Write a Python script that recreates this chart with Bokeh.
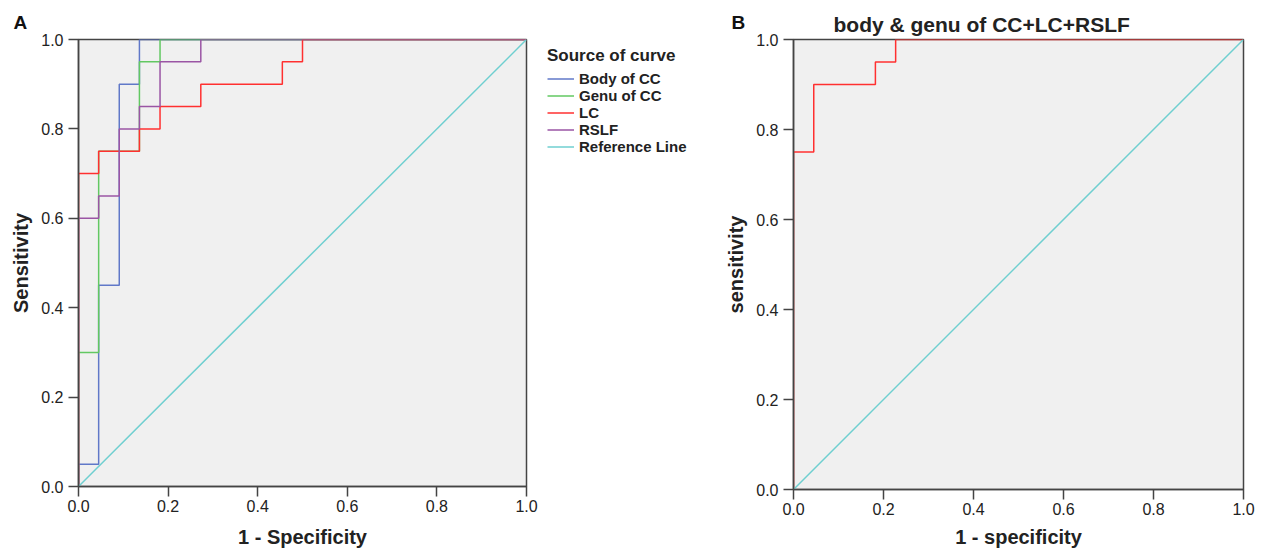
from bokeh.plotting import figure
from bokeh.models import (Range1d, FixedTicker, PrintfTickFormatter, Legend,
                          LegendItem, Label)
from bokeh.layouts import row
from bokeh.embed import file_html
from bokeh.resources import INLINE

# ---------------- data (ROC step vertices) ----------------
ticks = [0.0, 0.2, 0.4, 0.6, 0.8, 1.0]

body_fpr = [0, 0, 0.045, 0.045, 0.091, 0.091, 0.136, 0.136, 1.0]
body_tpr = [0, 0.05, 0.05, 0.45, 0.45, 0.90, 0.90, 1.0, 1.0]

genu_fpr = [0, 0, 0.045, 0.045, 0.136, 0.136, 0.182, 0.182, 1.0]
genu_tpr = [0, 0.30, 0.30, 0.75, 0.75, 0.95, 0.95, 1.0, 1.0]

lc_fpr = [0, 0, 0.045, 0.045, 0.136, 0.136, 0.182, 0.182, 0.273, 0.273,
          0.455, 0.455, 0.50, 0.50, 1.0]
lc_tpr = [0, 0.70, 0.70, 0.75, 0.75, 0.80, 0.80, 0.85, 0.85, 0.90,
          0.90, 0.95, 0.95, 1.0, 1.0]

rslf_fpr = [0, 0, 0.045, 0.045, 0.091, 0.091, 0.136, 0.136, 0.182, 0.182,
            0.273, 0.273, 1.0]
rslf_tpr = [0, 0.60, 0.60, 0.65, 0.65, 0.80, 0.80, 0.85, 0.85, 0.95,
            0.95, 1.0, 1.0]

comb_fpr = [0, 0, 0.045, 0.045, 0.182, 0.182, 0.227, 0.227, 1.0]
comb_tpr = [0, 0.75, 0.75, 0.90, 0.90, 0.95, 0.95, 1.0, 1.0]

ref_x = [0, 1]
ref_y = [0, 1]

series_names = ["Body of CC", "Genu of CC", "LC", "RSLF", "Reference Line"]
series_colors = ["#6078C8", "#62C862", "#FF3030", "#9A55A4", "#6FCFD0"]

FONT = "Liberation Sans"
AX = "#444444"
TXT = "#222222"


def style(p, xlabel, ylabel, xstand, ystand):
    p.background_fill_color = "#F0F0F0"
    p.border_fill_color = "white"
    p.outline_line_color = AX
    p.outline_line_width = 1.5
    p.xgrid.visible = False
    p.ygrid.visible = False
    for ax, lab, st, ls in ((p.xaxis[0], xlabel, xstand, 3),
                            (p.yaxis[0], ylabel, ystand, 5)):
        ax.ticker = FixedTicker(ticks=ticks)
        ax.formatter = PrintfTickFormatter(format="%.1f")
        ax.axis_line_color = AX
        ax.axis_line_width = 1.5
        ax.major_tick_line_color = AX
        ax.major_tick_line_width = 1.5
        ax.major_tick_in = 0
        ax.major_tick_out = 10
        ax.minor_tick_line_color = None
        ax.major_label_text_font = FONT
        ax.major_label_text_font_size = "16px"
        ax.major_label_text_color = TXT
        ax.major_label_standoff = ls
        ax.axis_label = lab
        ax.axis_label_text_font = FONT
        ax.axis_label_text_font_size = "20px"
        ax.axis_label_text_font_style = "bold"
        ax.axis_label_text_color = TXT
        ax.axis_label_standoff = st


# ---------------- panel A ----------------
pa = figure(frame_width=448, frame_height=447, output_backend="svg",
            toolbar_location=None, title=None,
            x_range=Range1d(0, 1), y_range=Range1d(0, 1),
            min_border_left=78, min_border_right=14,
            min_border_top=39, min_border_bottom=60)
style(pa, "1 - Specificity", "Sensitivity", 11, 6)

data_a = [(body_fpr, body_tpr), (genu_fpr, genu_tpr), (lc_fpr, lc_tpr),
          (rslf_fpr, rslf_tpr), (ref_x, ref_y)]
for (xs, ys), col in zip(data_a, series_colors):
    pa.line(xs, ys, line_color=col, line_width=1.5)

pa.add_layout(Label(x=-65, y=17, x_units="screen", y_units="screen",
                    text="A", text_font=FONT, text_baseline="alphabetic",
                    text_font_size="19px", text_font_style="bold",
                    text_color="#111111"), "above")

# ---------------- legend strip (between the panels) ----------------
# the same series are plotted here outside the visible range, only so that
# the legend has renderers to take its glyph styles from
pl = figure(width=158, height=551, output_backend="svg", toolbar_location=None,
            title=None, x_axis_type=None, y_axis_type=None,
            x_range=Range1d(5, 6), y_range=Range1d(5, 6),
            min_border_left=0, min_border_right=0, min_border_top=31,
            min_border_bottom=0)
pl.outline_line_color = None
pl.background_fill_color = "white"
pl.border_fill_color = "white"
items = []
for (xs, ys), name, col in zip(data_a, series_names, series_colors):
    r = pl.line(xs, ys, line_color=col, line_width=1.5)
    items.append(LegendItem(label=name, renderers=[r]))
legend = Legend(items=items, title="Source of curve", location="top_left",
                border_line_alpha=0, background_fill_alpha=0,
                title_text_font=FONT, title_text_font_size="17px",
                title_text_font_style="bold", title_text_color=TXT,
                label_text_font=FONT, label_text_font_size="15px",
                label_text_font_style="bold", label_text_color=TXT,
                glyph_width=27, glyph_height=15, label_height=15,
                spacing=0, padding=4, margin=3, label_standoff=5,
                title_standoff=4)
pl.add_layout(legend)

# ---------------- panel B ----------------
pb = figure(frame_width=450, frame_height=450, output_backend="svg",
            toolbar_location=None,
            x_range=Range1d(0, 1), y_range=Range1d(0, 1),
            min_border_left=95, min_border_right=12,
            min_border_top=39, min_border_bottom=56)
style(pb, "1 - specificity", "sensitivity", 8, 6)
pb.title.text = "body & genu of CC+LC+RSLF"
pb.title.text_font = FONT
pb.title.text_font_size = "21px"
pb.title.text_font_style = "bold"
pb.title.text_color = TXT
pb.title.align = "left"
pb.title.offset = 40
pb.title.standoff = 8

pb.line(comb_fpr, comb_tpr, line_color=series_colors[2], line_width=1.5)
pb.line(ref_x, ref_y, line_color=series_colors[4], line_width=1.5)

try:
    lab_b = Label(x=33, y=22, x_units="canvas", y_units="canvas")
except Exception:
    lab_b = Label(x=33, y=467, x_units="screen", y_units="screen")
lab_b.text = "B"
lab_b.text_font = FONT
lab_b.text_baseline = "alphabetic"
lab_b.text_font_size = "19px"
lab_b.text_font_style = "bold"
lab_b.text_color = "#111111"
pb.add_layout(lab_b, "left")

layout = row(pa, pl, pb)
open("out.html", "w").write(file_html(layout, INLINE))
